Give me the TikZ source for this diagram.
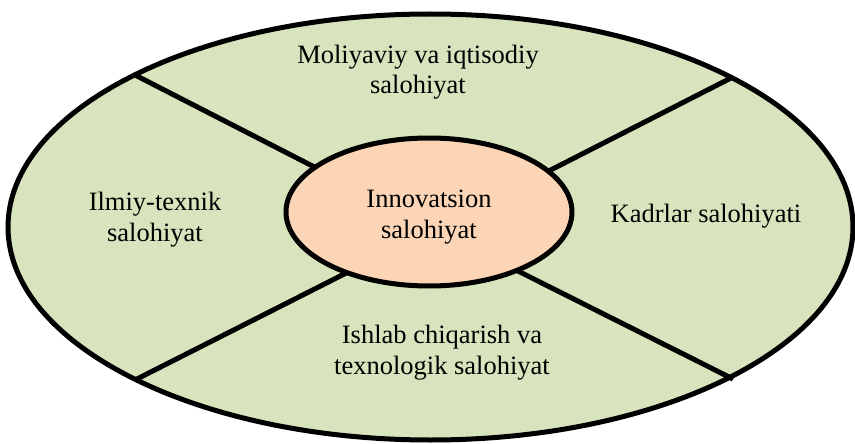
\documentclass[tikz,border=0pt]{standalone}
\usepackage{fontspec}
\setmainfont{Liberation Serif}
\definecolor{outerfill}{HTML}{D7E4BD}
\definecolor{innerfill}{HTML}{FBD5B5}
\begin{document}
\begin{tikzpicture}[x=1pt,y=-1pt,
  ring/.style={draw=black,line width=5pt},
  spoke/.style={draw=black,line width=5pt},
  lbl/.style={anchor=base,align=center,inner sep=0pt,font=\fontsize{26.5}{31}\selectfont}]
\useasboundingbox (0,0) rectangle (855,444);
% outer ellipse
\path[ring,fill=outerfill] (430.5,227) ellipse [x radius=422.5,y radius=213];
% spoke ends
\coordinate (o1) at (135,75);
\coordinate (o2) at (733,77);
\coordinate (o3) at (135,380);
\coordinate (o4) at (733,379);
\coordinate (i1) at (330,175);
\coordinate (i2) at (535,178);
\coordinate (i3) at (362,265);
\coordinate (i4) at (502,263);
\draw[spoke] (o1) -- (i1);
\draw[spoke] (o2) -- (i2);
\draw[spoke] (o3) -- (i3);
\draw[spoke] (o4) -- (i4);
% inner ellipse
\path[ring,fill=innerfill] (429,212) ellipse [x radius=143,y radius=74];
% labels (base anchor = baseline of last line)
\node[lbl] (top) at (418,94) {Moliyaviy va iqtisodiy\\salohiyat};
\node[lbl] (left) at (155,241) {Ilmiy-texnik\\salohiyat};
\node[lbl] (center) at (429,238) {Innovatsion\\salohiyat};
\node[lbl] (right) at (706,222) {Kadrlar salohiyati};
\node[lbl] (bottom) at (442,374) {Ishlab chiqarish va\\texnologik salohiyat};
\end{tikzpicture}
\end{document}
